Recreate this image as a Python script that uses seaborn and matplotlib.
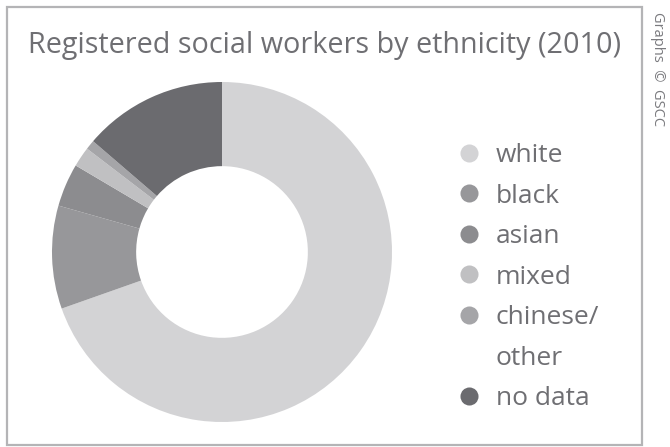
import matplotlib
matplotlib.use("Agg")
import matplotlib.pyplot as plt
import seaborn as sns
from matplotlib.lines import Line2D
from matplotlib.patches import Rectangle

# Data
categories = ["white", "black", "asian", "mixed", "chinese/other", "no data"]
values = [69.6, 9.8, 4.1, 1.9, 0.9, 13.7]
legend_labels = ["white", "black", "asian", "mixed", "chinese/", "other", "no data"]
colors = ["#d3d3d5", "#97979a", "#8c8c8f", "#c0c0c2", "#a5a5a8", "#6b6b6f"]

sns.set_theme(style="white")
plt.rcParams["font.family"] = ["Open Sans", "DejaVu Sans"]

fig = plt.figure(figsize=(6.7, 4.47), dpi=100)
W, H = 670, 447

# outer frame
fig.patches.append(Rectangle((7 / W, 2 / H), (642 - 7) / W, (440 - 2) / H,
                             transform=fig.transFigure, fill=False,
                             edgecolor="#b4b4b6", linewidth=1.6))

cx, cy, r = 222, 447 - 252, 170
ax = fig.add_axes([(cx - r) / W, (cy - r) / H, 2 * r / W, 2 * r / H])
ax.pie(values, colors=colors, startangle=90, counterclock=False,
       wedgeprops=dict(width=0.495, linewidth=0), radius=1.0)
ax.set_xlim(-1, 1)
ax.set_ylim(-1, 1)
ax.set_aspect("equal")
ax.axis("off")

fig.text(325 / W, 1 - 45 / H, "Registered social workers by ethnicity (2010)",
         ha="center", va="center", fontsize=20.7, color="#6f6f73")

fig.text(658 / W, 1 - 12 / H, "Graphs  ©  GSCC", rotation=-90, ha="center",
         va="top", fontsize=10.5, color="#7a7a7e")

handle_colors = [colors[0], colors[1], colors[2], colors[3], colors[4], None, colors[5]]
handles = []
for c in handle_colors:
    if c is None:
        handles.append(Line2D([], [], linestyle="none", marker=None))
    else:
        handles.append(Line2D([], [], linestyle="none", marker="o",
                              markersize=13, markerfacecolor=c,
                              markeredgewidth=0))
leg = fig.legend(handles, legend_labels, loc="upper left",
                 bbox_to_anchor=(456 / W, 1 - 143 / H), frameon=False,
                 fontsize=19, labelcolor="#6f6f73", handlelength=1.0,
                 handletextpad=0.5, labelspacing=0.59, borderpad=0,
                 borderaxespad=0)

fig.savefig("out.png", dpi=100)
